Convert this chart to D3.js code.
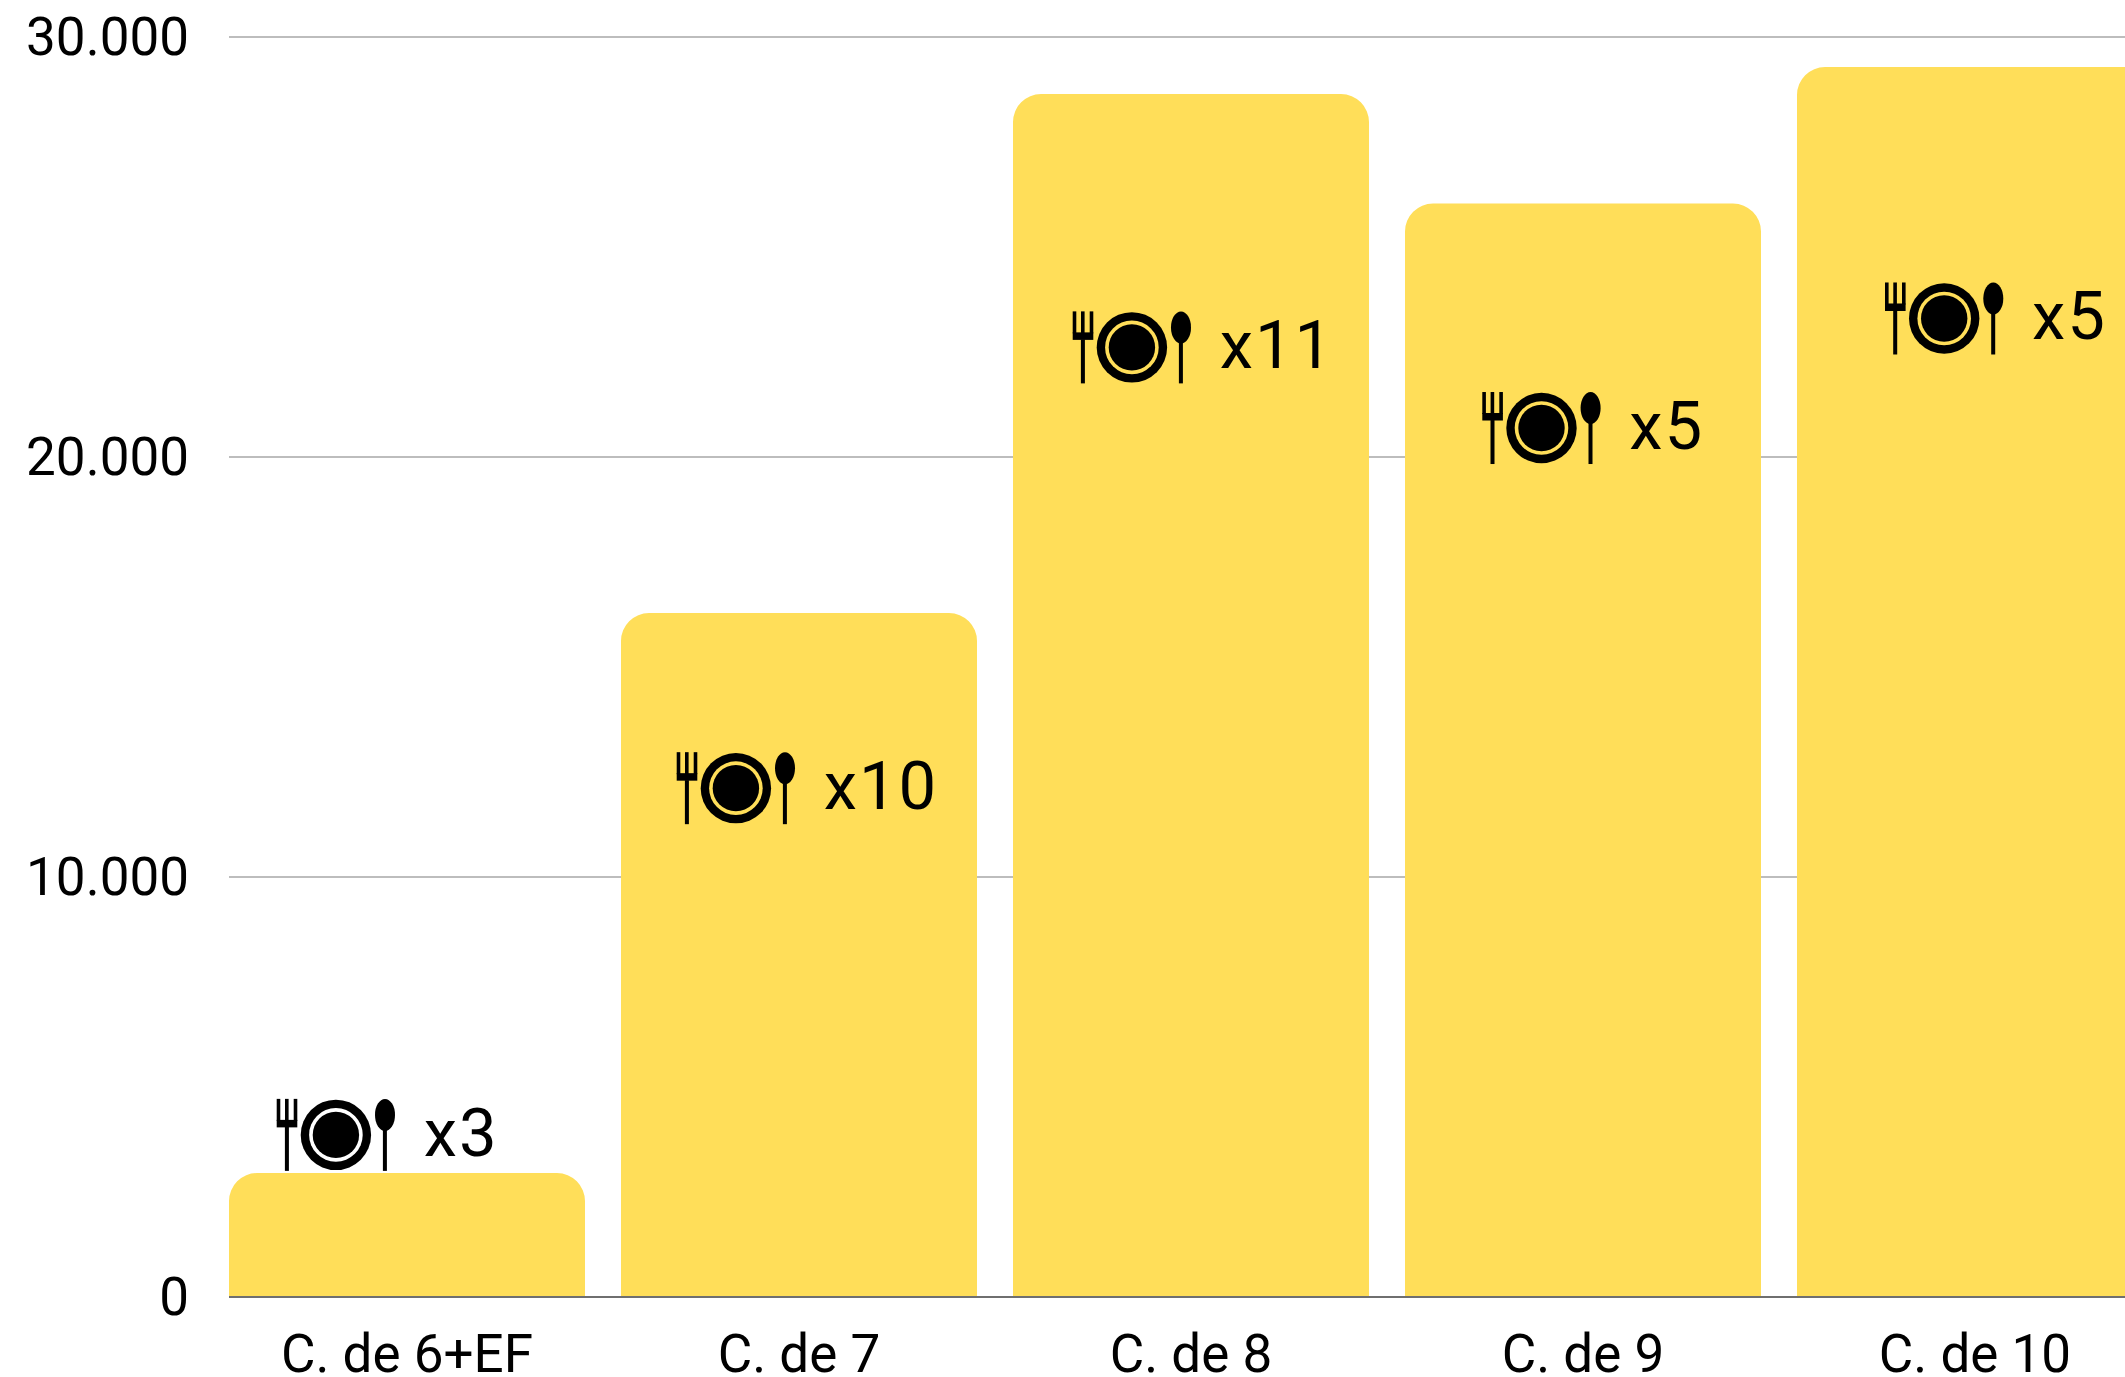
<!DOCTYPE html>
<html><head><meta charset="utf-8">
<script src="https://cdn.jsdelivr.net/npm/d3@7"></script>
<style>html,body{margin:0;padding:0;background:#fff;overflow:hidden}svg{display:block}text{font-family:Roboto,sans-serif;fill:#000}</style>
</head><body><svg id="c" width="2125" height="1377"></svg>
<script>
const categories = ["C. de 6+EF","C. de 7","C. de 8","C. de 9","C. de 10"];
const values = [2950,16285,28640,26035,29285];
const mealCounts = ["x3","x10","x11","x5","x5"];
const mealAnchors = [3860,12115,22610,20690,23298];
const yTicks = [0,10000,20000,30000];

const svg = d3.select("#c");
const y = d3.scaleLinear().domain([0,30000]).range([1297,37]);
const x = d3.scaleBand().domain(categories).range([211,2171]).paddingInner(36/392).paddingOuter(18/392);
const iconShift = [-130.3,-122.3,-118.3,-100.7,-90];
const fmt = d3.formatLocale({decimal:",",thousands:".",grouping:[3],currency:["",""]}).format(",d");
const bandR = 28;
const barColor = "#ffde59";

const yAxis = d3.axisLeft(y).tickValues(yTicks).tickFormat(fmt).tickSize(0).tickPadding(0);
const gy = svg.append("g").attr("transform","translate(189,0)").call(yAxis);
gy.select(".domain").remove();
gy.selectAll("text").style("font-size","53px").attr("dy","17px").attr("x",0);

svg.append("g").selectAll("line").data(yTicks.filter(d=>d>0)).join("line")
  .attr("x1",229).attr("x2",2125).attr("y1",d=>y(d)).attr("y2",d=>y(d))
  .attr("stroke","#bdbdbd").attr("stroke-width",2);

const barPath = (c,v)=>{
  const l=x(c), r=l+x.bandwidth(), t=y(v), b=y(0);
  return `M${l},${b}V${t+bandR}A${bandR},${bandR} 0 0 1 ${l+bandR},${t}H${r-bandR}A${bandR},${bandR} 0 0 1 ${r},${t+bandR}V${b}Z`;
};
svg.append("g").selectAll("path").data(categories).join("path")
  .attr("d",(c,i)=>barPath(c,values[i])).attr("fill",barColor);

svg.append("line").attr("x1",229).attr("x2",2125).attr("y1",y(0)).attr("y2",y(0))
  .attr("stroke","#6f6f6f").attr("stroke-width",2);

const gx = svg.append("g").attr("transform","translate(0,1372)").call(d3.axisBottom(x).tickSize(0).tickPadding(0));
gx.select(".domain").remove();
gx.selectAll("text").style("font-size","53px").attr("dy",0).attr("y",0);

const icons = svg.append("g").selectAll("g").data(categories).join("g")
  .attr("transform",(c,i)=>`translate(${x(c)+x.bandwidth()/2+iconShift[i]},${y(mealAnchors[i])})`);
icons.each(function(c,i){
  const g=d3.select(this), bg = i===0 ? "#fff" : barColor;
  [0,8.3,17].forEach(t=>g.append("rect").attr("x",t).attr("y",-36).attr("width",3.6).attr("height",22));
  g.append("rect").attr("x",0).attr("y",-15).attr("width",20.6).attr("height",7.5);
  g.append("rect").attr("x",8.2).attr("y",-8).attr("width",4).attr("height",44);
  g.append("circle").attr("cx",59.2).attr("cy",0).attr("r",35.2).attr("fill","#000");
  g.append("circle").attr("cx",59.2).attr("cy",0).attr("r",26.8).attr("fill",bg);
  g.append("circle").attr("cx",59.2).attr("cy",0).attr("r",23.2).attr("fill","#000");
  g.append("ellipse").attr("cx",108.3).attr("cy",-20).attr("rx",10).attr("ry",16);
  g.append("rect").attr("x",106.2).attr("y",-6).attr("width",4).attr("height",42);
  g.append("text").attr("x",147).attr("y",21).style("font-size","67px").style("letter-spacing","2px").text(mealCounts[i]);
});
</script></body></html>
